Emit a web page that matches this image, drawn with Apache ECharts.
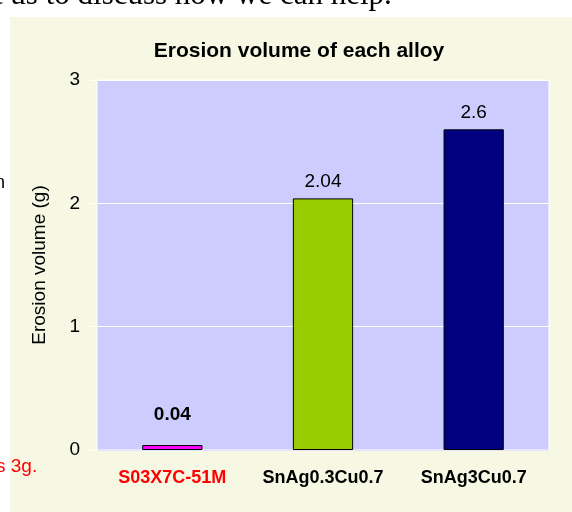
<!DOCTYPE html>
<html>
<head>
<meta charset="utf-8">
<script src="https://cdn.jsdelivr.net/npm/echarts@6/dist/echarts.min.js"></script>
<style>
    html, body { margin: 0; padding: 0; background: #fff; }
    #main { width: 572px; height: 512px; }
</style>
</head>
<body>
<div id="main"></div>
<script>
const alloys = ['S03X7C-51M', 'SnAg0.3Cu0.7', 'SnAg3Cu0.7'];
const erosion = [0.04, 2.04, 2.6];
const barColors = ['#ff00ff', '#99cc00', '#000080'];
const yTicks = [0, 1, 2, 3];

const font = '"Liberation Sans", Arial, sans-serif';

function initChart(divId) {
    var dom = document.getElementById(divId);
    var myChart = echarts.init(dom, null, { renderer: 'canvas' });

    var data = [];
    for (var i = 0; i < erosion.length; i++) {
        data.push({
            value: erosion[i],
            itemStyle: { color: barColors[i] },
            label: i == 0 ? { fontWeight: 'bold', distance: 21 } : { distance: 7 }
        });
    }

    var option = {
        backgroundColor: '#fff',
        animation: false,
        graphic: [
            { type: 'rect', shape: { x: 10, y: 17, width: 562, height: 495 }, style: { fill: '#f6f8e4' }, z: -10 },
            { type: 'text', x: -6, y: 11, style: { text: 't us to discuss how we can help.', font: '31px "Liberation Serif", serif', fill: '#000', textVerticalAlign: 'bottom' } },
            { type: 'text', x: -5, y: 183, style: { text: 'n', font: '18px ' + font, fill: '#000', textVerticalAlign: 'middle' } },
            { type: 'text', x: -4, y: 467, style: { text: 's 3g.', font: '19px ' + font, fill: '#ff0000', textVerticalAlign: 'middle' } }
        ],
        title: {
            text: 'Erosion volume of each alloy',
            left: 294,
            top: 36,
            textAlign: 'center',
            textStyle: { fontFamily: font, fontSize: 21, fontWeight: 'bold', color: '#000' }
        },
        grid: {
            left: 97, right: 23, top: 80, bottom: 62,
            show: true,
            backgroundColor: '#ccccff',
            borderColor: '#ffffff',
            borderWidth: 1
        },
        xAxis: {
            type: 'category',
            data: alloys,
            axisLine: { lineStyle: { color: '#e4e4f8' } },
            axisTick: { show: false },
            axisLabel: {
                interval: 0,
                hideOverlap: false,
                margin: 19,
                fontFamily: font,
                fontSize: 18,
                fontWeight: 'bold',
                color: function (v, i) { return i == 0 ? '#ff0000' : '#000'; }
            }
        },
        yAxis: {
            type: 'value',
            min: yTicks[0],
            max: yTicks[yTicks.length - 1],
            interval: 1,
            name: 'Erosion volume (g)',
            nameLocation: 'middle',
            nameGap: 48,
            nameTextStyle: { fontFamily: font, fontSize: 19, color: '#000' },
            axisLine: { show: false },
            axisTick: { show: true, length: 7, lineStyle: { color: '#fff' } },
            axisLabel: { margin: 17, fontFamily: font, fontSize: 19, color: '#000' },
            splitLine: { lineStyle: { color: '#fff', width: 1 } }
        },
        series: [
            {
                type: 'bar',
                data: data,
                barWidth: '40%',
                itemStyle: { borderColor: '#000', borderWidth: 1 },
                label: {
                    show: true,
                    position: 'top',
                    fontFamily: font,
                    fontSize: 19,
                    color: '#000'
                }
            }
        ]
    };

    myChart.setOption(option);
}

initChart('main');
</script>
</body>
</html>
